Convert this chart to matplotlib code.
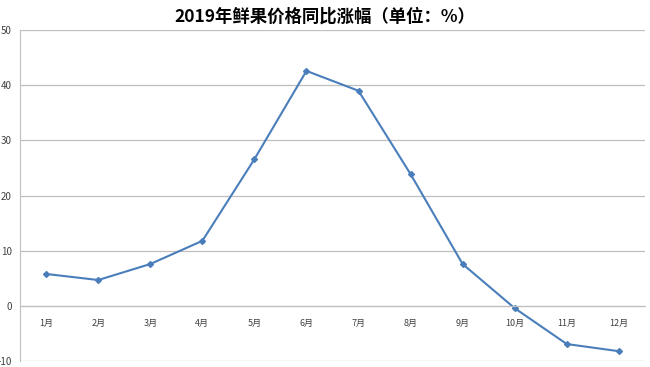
import matplotlib
matplotlib.use('Agg')
import matplotlib.pyplot as plt

plt.rcParams['font.family'] = ['Noto Sans CJK SC', 'DejaVu Sans']

# datos
months = ['1月', '2月', '3月', '4月', '5月', '6月', '7月', '8月', '9月', '10月', '11月', '12月']
values = [5.8, 4.7, 7.6, 11.8, 26.6, 42.6, 39.0, 23.9, 7.6, -0.4, -6.9, -8.2]
y_ticks = [-10, 0, 10, 20, 30, 40, 50]

fig = plt.figure(figsize=(6.5, 3.67), dpi=100)
ax = fig.add_axes([0.031, 0.016, 0.961, 0.902])

# eje x cruza en 0 (antes de las etiquetas, porque reinicia los ticks)
ax.spines['bottom'].set_position(('data', 0))
ax.spines['bottom'].set_color('#BFBFBF')
ax.spines['left'].set_color('#BFBFBF')
ax.spines['top'].set_visible(False)
ax.spines['right'].set_visible(False)

x = list(range(len(months)))
ax.plot(x, values, color='#4A7EBB', linewidth=1.5, marker='D', markersize=3)

ax.set_xlim(-0.5, len(months) - 0.5)
ax.set_ylim(-10, 50)
ax.set_yticks(y_ticks)
ax.set_yticklabels([str(t) for t in y_ticks])
ax.set_xticks(x)
ax.set_xticklabels(months)
ax.tick_params(axis='x', length=0, pad=9, labelsize=6.5, labelcolor='#404040')
ax.tick_params(axis='y', length=0, pad=6, labelsize=7, labelcolor='#404040')

ax.yaxis.grid(True, color='#BFBFBF', linewidth=0.9)
ax.set_axisbelow(True)

fig.text(0.5, 0.955, '2019年鲜果价格同比涨幅（单位：%）', ha='center', va='center',
         fontsize=12.5, fontweight='bold', color='#000000')

fig.savefig('out.png')
